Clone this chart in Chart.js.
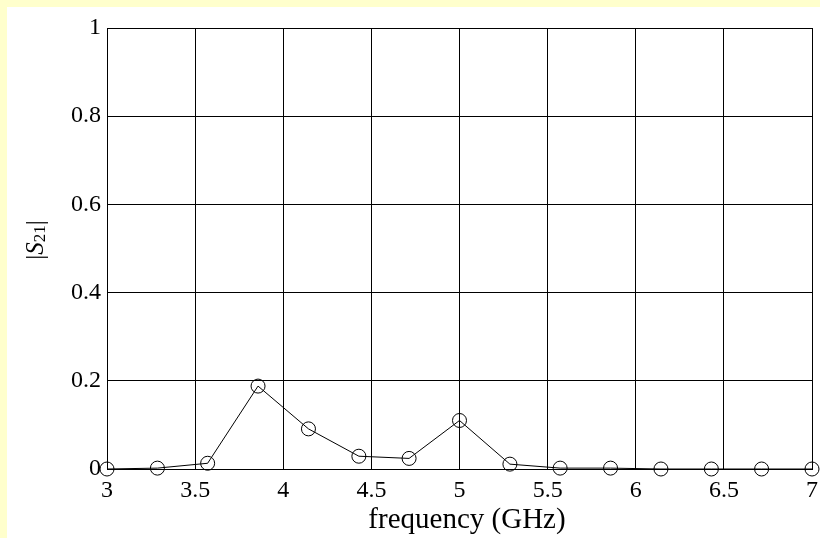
<!DOCTYPE html>
<html>
<head>
<meta charset="utf-8">
<script src="https://cdn.jsdelivr.net/npm/chart.js@4.4.0/dist/chart.umd.min.js"></script>
<style>
    body { margin: 0; background: #FFFFCC; }
    #wrap { width: 820px; height: 538px; }
</style>
</head>
<body>
<div id="wrap"><canvas id="chart" width="820" height="538"></canvas></div>
<script>
// Data
const freq = [3, 3.286, 3.571, 3.857, 4.143, 4.429, 4.714, 5, 5.286, 5.571, 5.857, 6.143, 6.429, 6.714, 7];
const s21 = [0, 0.002, 0.013, 0.188, 0.091, 0.029, 0.024, 0.11, 0.011, 0.002, 0.002, 0, 0, 0, 0];
const xTicks = [3, 3.5, 4, 4.5, 5, 5.5, 6, 6.5, 7];
const yTicks = [0, 0.2, 0.4, 0.6, 0.8, 1];

const serif = "'Liberation Serif', 'Times New Roman', serif";

// Background: yellow frame with white figure area
const backgroundPlugin = {
    id: 'background',
    beforeDraw(chart) {
        const ctx = chart.ctx;
        ctx.save();
        ctx.fillStyle = '#FFFFCC';
        ctx.fillRect(0, 0, chart.width, chart.height);
        ctx.fillStyle = '#FFFFFF';
        ctx.fillRect(7, 7, chart.width - 7, chart.height - 7);
        ctx.restore();
    }
};

// Box around plot area + axis titles
const labelsPlugin = {
    id: 'labels',
    afterDatasetsDraw(chart) {
        const ctx = chart.ctx;
        const a = chart.chartArea;
        ctx.save();
        ctx.strokeStyle = '#000';
        ctx.lineWidth = 1;
        ctx.strokeRect(Math.round(a.left) + 0.5, Math.round(a.top) + 0.5,
            Math.round(a.right - a.left), Math.round(a.bottom - a.top));
        ctx.restore();
    },
    afterDraw(chart) {
        const ctx = chart.ctx;
        const a = chart.chartArea;
        ctx.save();
        ctx.fillStyle = '#000';

        // x title
        ctx.font = '29px ' + serif;
        ctx.textAlign = 'center';
        ctx.textBaseline = 'alphabetic';
        ctx.fillText('frequency (GHz)', 467, 528);

        // y title |S21| with subscript
        ctx.translate(36, 240);
        ctx.rotate(-Math.PI / 2);
        const parts = [
            { t: '|', f: '25px ' + serif, dy: 0 },
            { t: 'S', f: 'italic 25px ' + serif, dy: 0 },
            { t: '21', f: '17px ' + serif, dy: 5 },
            { t: '|', f: '25px ' + serif, dy: 0 }
        ];
        let total = 0;
        parts.forEach(p => { ctx.font = p.f; p.w = ctx.measureText(p.t).width; total += p.w; });
        let x = -total / 2;
        ctx.textAlign = 'left';
        ctx.textBaseline = 'middle';
        parts.forEach(p => {
            ctx.font = p.f;
            ctx.fillText(p.t, x, p.dy);
            x += p.w;
        });
        ctx.restore();
    }
};

const ctx = document.getElementById('chart').getContext('2d');
new Chart(ctx, {
    type: 'scatter',
    data: {
        datasets: [{
            data: freq.map((f, i) => ({ x: f, y: s21[i] })),
            showLine: true,
            borderColor: '#000',
            borderWidth: 1,
            pointRadius: 7,
            pointHoverRadius: 7,
            pointBorderWidth: 1,
            pointBorderColor: '#000',
            pointBackgroundColor: 'rgba(0,0,0,0)',
            backgroundColor: 'rgba(0,0,0,0)',
            clip: false
        }]
    },
    options: {
        responsive: false,
        animation: false,
        devicePixelRatio: 1,
        layout: { padding: { top: 28, right: 7, left: 0, bottom: 0 } },
        plugins: {
            legend: { display: false },
            tooltip: { enabled: false }
        },
        scales: {
            x: {
                type: 'linear',
                min: 3,
                max: 7,
                afterBuildTicks: s => { s.ticks = xTicks.map(v => ({ value: v })); },
                afterFit: s => { s.height = 69; s.paddingLeft = 0; s.paddingRight = 0; },
                ticks: {
                    color: '#000',
                    font: { family: serif, size: 24 },
                    padding: 7,
                    maxRotation: 0,
                    autoSkip: false,
                    callback: v => String(v)
                },
                grid: { color: '#000', lineWidth: 1, drawTicks: false },
                border: { color: '#000', width: 1 }
            },
            y: {
                min: 0,
                max: 1,
                afterBuildTicks: s => { s.ticks = yTicks.map(v => ({ value: v })); },
                afterFit: s => { s.width = 107; s.paddingTop = 0; s.paddingBottom = 0; },
                ticks: {
                    color: '#000',
                    font: { family: serif, size: 24 },
                    padding: 6,
                    callback: v => String(v)
                },
                grid: { color: '#000', lineWidth: 1, drawTicks: false },
                border: { color: '#000', width: 1 }
            }
        }
    },
    plugins: [backgroundPlugin, labelsPlugin]
});
</script>
</body>
</html>
